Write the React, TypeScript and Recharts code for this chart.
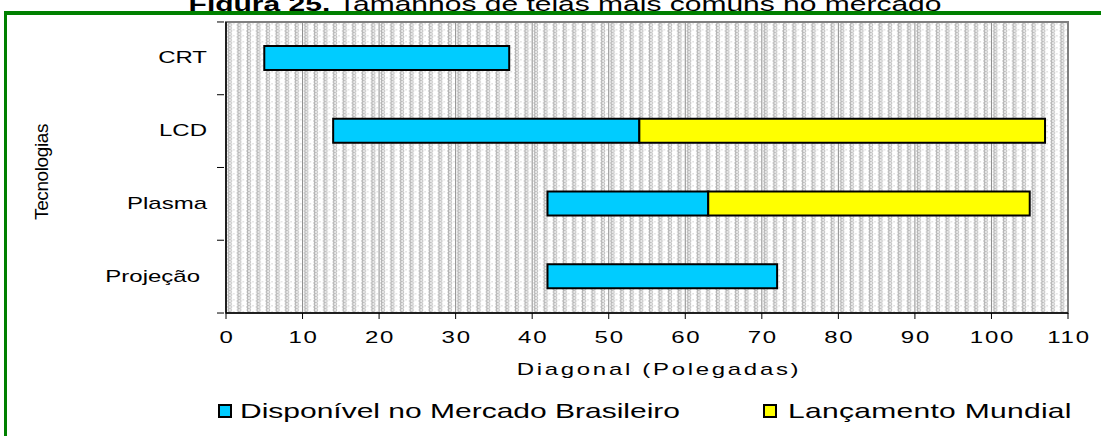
import React from 'react';
import {
  Bar,
  BarChart,
  CartesianGrid,
  Legend,
  ReferenceArea,
  XAxis,
  YAxis,
} from 'recharts';

// tamanhos de tela (polegadas) por tecnologia
const tecnologias = ['CRT', 'LCD', 'Plasma', 'Projeção'];
const menorTela = [5, 14, 42, 42];
const maiorBrasil = [37, 54, 63, 72];
const maiorMundial = [null, 107, 105, null];
const xTicks = [0, 10, 20, 30, 40, 50, 60, 70, 80, 90, 100, 110];

const CYAN = '#00CCFF';
const YELLOW = '#FFFF00';
const FONT = '"Liberation Sans", Arial, sans-serif';
const SX = 1.5; // texto esticado na horizontal

const W = 1101;
const H = 436;

const rows = tecnologias.map((t, i) => ({
  nome: t,
  base: menorTela[i],
  brasil: maiorBrasil[i] - menorTela[i],
  mundial: maiorMundial[i] == null ? 0 : (maiorMundial[i] as number) - maiorBrasil[i],
}));

function Stretched({
  x,
  y,
  anchor = 'start',
  size = 16,
  spacing = 0,
  children,
}: {
  x: number;
  y: number;
  anchor?: 'start' | 'middle' | 'end';
  size?: number;
  spacing?: number;
  children: React.ReactNode;
}) {
  return (
    <text
      transform={`translate(${x} ${y}) scale(${SX} 1)`}
      textAnchor={anchor}
      fontSize={size}
      fontFamily={FONT}
      letterSpacing={spacing}
      fill="#000"
    >
      {children}
    </text>
  );
}

const XTick = (props: any) => {
  const { x, y, payload } = props;
  return (
    <Stretched x={x + 1} y={y + 22} anchor="middle" spacing={1.2}>
      {payload.value}
    </Stretched>
  );
};

const YTick = (props: any) => {
  const { x, y, payload, index } = props;
  const half = 36.4;
  const last = payload.value === 'Projeção';
  return (
    <g>
      <line x1={x - 1} x2={x + 6} y1={y - half} y2={y - half} stroke="#000" strokeWidth={1} />
      {index === tecnologias.length - 1 && (
        <line x1={x - 1} x2={x + 6} y1={y + half} y2={y + half} stroke="#000" strokeWidth={1} />
      )}
      <Stretched x={x - (last ? 18 : 11)} y={y + 5} anchor="end">
        {payload.value}
      </Stretched>
    </g>
  );
};

const LegendBox = () => (
  <svg width={W} height={34} style={{ display: 'block' }}>
    <rect x={219} y={9} width={12} height={12} fill={CYAN} stroke="#000" strokeWidth={2} />
    <Stretched x={240} y={22} size={20}>
      Disponível no Mercado Brasileiro
    </Stretched>
    <rect x={764} y={9} width={12} height={12} fill={YELLOW} stroke="#000" strokeWidth={2} />
    <Stretched x={788} y={22} size={20} spacing={0.2}>
      Lançamento Mundial
    </Stretched>
  </svg>
);

export default function App() {
  return (
    <div
      style={{
        position: 'absolute',
        left: 0,
        top: 0,
        width: W,
        height: H,
        overflow: 'hidden',
        background: '#fff',
      }}
    >
      <BarChart
        width={W}
        height={H}
        data={rows}
        layout="vertical"
        barSize={24}
        margin={{ top: 22, right: 33, bottom: 29, left: 0 }}
      >
        <defs>
          <pattern id="pontos" x={226} y={22} width={9.57} height={6} patternUnits="userSpaceOnUse">
            <path d="M2 0 L3 1.5 L2 3 L3 4.5 L2 6" stroke="#b4b4b4" strokeWidth={1.5} fill="none" />
            <path d="M5.5 0 L4.5 1.5 L5.5 3 L4.5 4.5 L5.5 6" stroke="#c4c4c4" strokeWidth={1.3} fill="none" />
            <rect x={7} y={1} width={1.5} height={1.5} fill="#dcdcdc" />
          </pattern>
        </defs>
        <CartesianGrid
          horizontal={false}
          stroke="#8c8c8c"
          strokeWidth={1}
          fill="url(#pontos)"
          fillOpacity={1}
        />
        <ReferenceArea x1={0} x2={110} fill="none" stroke="#808080" strokeWidth={2} ifOverflow="visible" />
        <XAxis
          type="number"
          domain={[0, 110]}
          ticks={xTicks}
          interval={0}
          height={60}
          tick={<XTick />}
          tickSize={6}
          tickLine={{ stroke: '#000' }}
          axisLine={{ stroke: '#000', strokeWidth: 1.5 }}
          label={{
            value: 'Diagonal (Polegadas)',
            position: 'insideBottom',
            offset: 8,
            content: (p: any) => {
              const vb = p.viewBox;
              return (
                <Stretched x={vb.x + vb.width / 2 + 12} y={375} anchor="middle" spacing={1.8}>
                  Diagonal (Polegadas)
                </Stretched>
              );
            },
          }}
        />
        <YAxis
          type="category"
          dataKey="nome"
          width={226}
          tickLine={false}
          tick={<YTick />}
          axisLine={{ stroke: '#000', strokeWidth: 1.5 }}
          label={{
            value: 'Tecnologias',
            content: () => (
              <text
                transform="translate(48 172) rotate(-90)"
                textAnchor="middle"
                fontSize={19}
                fontFamily={FONT}
                letterSpacing={-0.4}
                fill="#000"
              >
                Tecnologias
              </text>
            ),
          }}
        />
        <Legend
          verticalAlign="bottom"
          height={34}
          content={() => <LegendBox />}
          wrapperStyle={{ left: 0, top: 396, width: W }}
        />
        <Bar dataKey="base" stackId="a" fill="transparent" isAnimationActive={false} legendType="none" />
        <Bar
          dataKey="brasil"
          name="Disponível no Mercado Brasileiro"
          stackId="a"
          fill={CYAN}
          stroke="#000"
          strokeWidth={2}
          isAnimationActive={false}
        />
        <Bar
          dataKey="mundial"
          name="Lançamento Mundial"
          stackId="a"
          fill={YELLOW}
          stroke="#000"
          strokeWidth={2}
          isAnimationActive={false}
        />
      </BarChart>
      <svg
        width={W}
        height={H}
        style={{ position: 'absolute', left: 0, top: 0, pointerEvents: 'none' }}
      >
        <text
          transform="translate(565 11) scale(1.5 1)"
          textAnchor="middle"
          fontSize={20}
          fontFamily={FONT}
          fill="#000"
        >
          <tspan fontWeight="bold">Figura 25.</tspan> Tamanhos de telas mais comuns no mercado
        </text>
        <rect x={4} y={11} width={W - 4} height={4} fill="#008000" />
        <rect x={4} y={11} width={3} height={H - 11} fill="#008000" />
      </svg>
    </div>
  );
}
